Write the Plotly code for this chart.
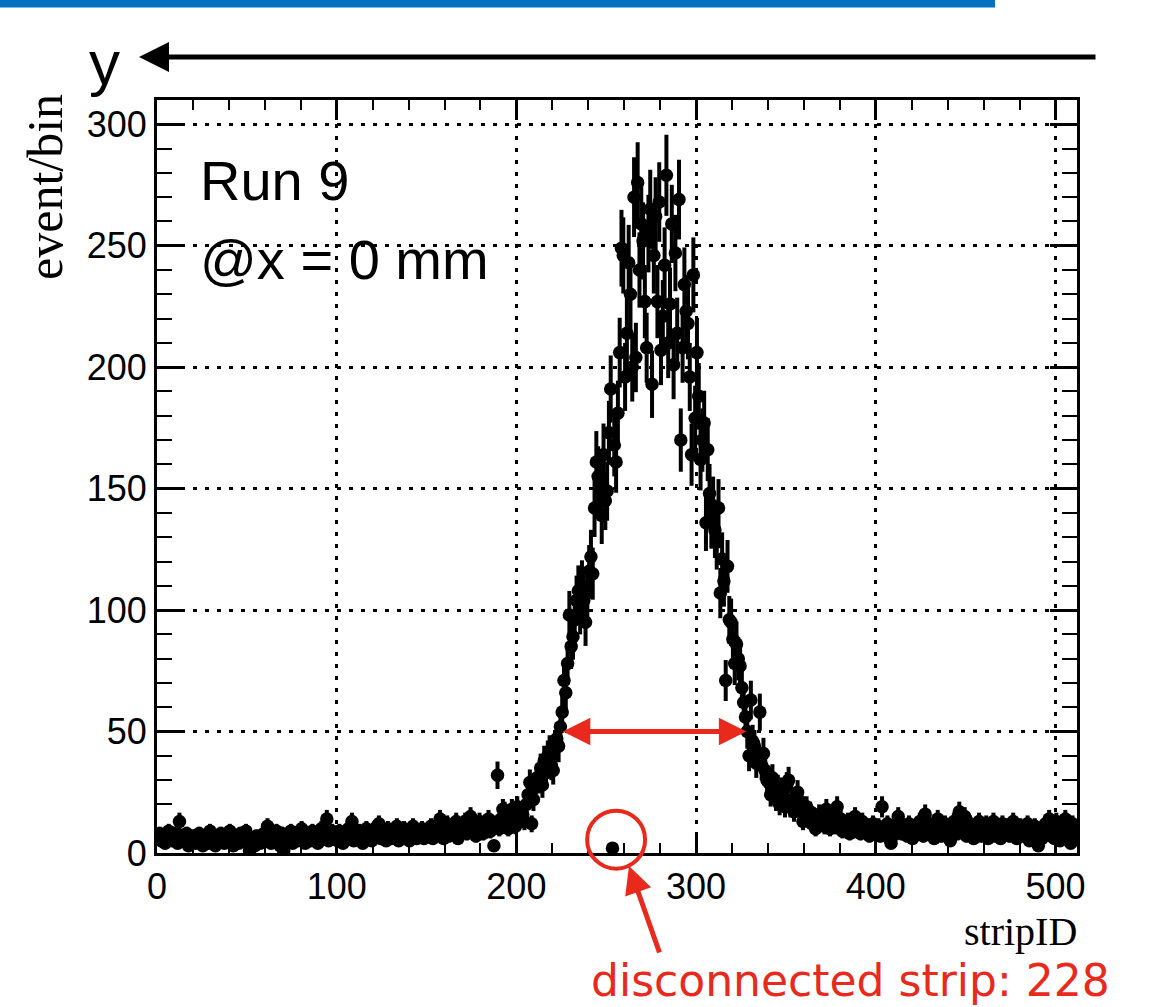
import numpy as np
import plotly.graph_objects as go

# ---------------- data (counts per strip) ----------------
counts_000_049 = [7, 8, 5, 6, 4, 7, 9, 6, 5, 8, 6, 4, 13, 7, 5, 6, 8, 3, 6, 5,
                  7, 4, 6, 8, 5, 3, 7, 6, 4, 9, 5, 6, 3, 7, 5, 8, 6, 4, 7, 5,
                  9, 6, 3, 5, 7, 4, 8, 6, 5, 9]
counts_050_099 = [4, 1, 6, 5, 3, 7, 5, 4, 6, 8, 5, 11, 6, 4, 7, 5, 9, 6, 3, 8,
                  1, 6, 7, 5, 9, 4, 6, 8, 5, 7, 10, 6, 4, 8, 7, 5, 9, 6, 8, 4,
                  7, 10, 6, 8, 14, 5, 7, 9, 6, 8]
counts_100_149 = [5, 9, 7, 4, 8, 6, 10, 7, 13, 5, 8, 6, 9, 7, 4, 8, 10, 6, 9, 5,
                  7, 8, 11, 12, 6, 9, 7, 5, 10, 8, 6, 9, 7, 11, 5, 8, 6, 10, 7, 9,
                  5, 8, 11, 7, 6, 9, 8, 10, 6, 7]
counts_150_189 = [9, 8, 11, 6, 10, 7, 9, 14, 8, 6, 10, 12, 7, 9, 11, 8, 13, 6, 10, 9,
                  12, 13, 8, 11, 15, 9, 12, 7, 10, 13, 11, 8, 12, 10, 14, 9, 11, 3, 12, 32]
counts_190_239 = [10, 14, 18, 17, 13, 10, 16, 18, 15, 11, 19, 17, 14, 16, 13, 20, 24, 29, 12, 22,
                  27, 31, 30, 35, 28, 38, 33, 40, 42, 36, 34, 44, 47, 44, 52, 58, 71, 66, 78, 98,
                  85, 89, 96, 104, 108, 100, 110, 104, 95, 107]
counts_240_300 = [116, 122, 115, 142, 161, 155, 150, 139, 164, 145,
                  149, 173, 191, 2, 168, 161, 181, 206, 249, 246,
                  196, 214, 243, 230, 200, 270, 204, 276, 240, 259,
                  252, 227, 208, 255, 265, 193, 246, 262, 227, 268,
                  207, 221, 242, 279, 210, 226, 259, 201, 247, 214,
                  269, 170, 208, 234, 223, 218, 196, 164, 238, 179,
                  206]
counts_301_413 = [188, 162, 170, 177, 136, 166, 148, 137, 143, 133,
                  128, 142, 107, 121, 112, 71, 118, 96, 95, 88,
                  78, 86, 80, 77, 68, 62, 56, 50, 40, 63,
                  46, 44, 37, 40, 58, 36, 41, 34, 30, 29,
                  24, 31, 27, 22, 27, 20, 26, 23, 19, 28,
                  30, 19, 22, 17, 21, 25, 18, 21, 13, 16,
                  19, 14, 17, 12, 15, 10, 13, 16, 12, 14,
                  11, 18, 13, 10, 12, 15, 11, 19, 12, 14,
                  9, 12, 10, 13, 8, 11, 9, 15, 12, 10,
                  8, 13, 9, 11, 11, 7, 10, 12, 8, 9,
                  11, 7, 19, 10, 8, 12, 6, 4, 9, 11,
                  8, 15, 10]
counts_414_511 = [8, 11, 9, 7, 12, 10, 6, 9, 11, 8,
                  13, 10, 7, 16, 9, 12, 8, 10, 6, 11,
                  14, 9, 7, 10, 12, 8, 11, 5, 9, 13,
                  10, 8, 17, 9, 11, 15, 7, 10, 12, 8,
                  6, 11, 9, 13, 7, 10, 8, 12, 6, 9,
                  11, 13, 7, 8, 10, 6, 12, 9, 8, 11,
                  7, 10, 13, 8, 6, 9, 11, 7, 10, 8,
                  12, 5, 9, 7, 11, 8, 3, 10, 6, 9,
                  12, 8, 14, 7, 10, 6, 13, 9, 5, 11,
                  8, 14, 6, 10, 4, 12, 7, 9]

counts = np.array(counts_000_049 + counts_050_099 + counts_100_149 + counts_150_189 +
                  counts_190_239 + counts_240_300 + counts_301_413 + counts_414_511, dtype=float)
n_strips = 512
strip_centers = np.arange(n_strips) + 0.5
errors = np.sqrt(counts)

x_range = [0, 512]
y_range = [0, 310]
x_tick_step, x_minor_step = 100, 20
y_tick_step, y_minor_step = 50, 10
fwhm_level = 50
fwhm_left, fwhm_right = 225, 328
dead_strip_label = "disconnected strip: 228"
dead_marker_center = (255.5, 5.5)

# ---------------- geometry helpers ----------------
W, H = 1150, 1007
PL, PR, PT, PB = 157, 1077, 100, 853
RED = "#E8291C"


def pxx(px):
    return (px - PL) / (PR - PL)


def pxy(py):
    return (PB - py) / (PB - PT)


def dx_to_px(x):
    return PL + (x - x_range[0]) / (x_range[1] - x_range[0]) * (PR - PL)


def dy_to_px(y):
    return PB - (y - y_range[0]) / (y_range[1] - y_range[0]) * (PB - PT)


fig = go.Figure()
fig.add_trace(go.Scatter(
    x=strip_centers, y=counts, mode="markers",
    marker=dict(color="black", size=13.5, line=dict(width=0)),
    error_y=dict(type="data", array=errors, color="black", thickness=4, width=0),
    showlegend=False, hoverinfo="x+y",
))

sans = "Liberation Sans, Arial, Helvetica, sans-serif"
serif = "Liberation Serif, Times New Roman, serif"

axis_common = dict(
    showline=True, linewidth=3, linecolor="black", mirror="ticks",
    ticks="inside", tickcolor="black", tickwidth=2.5,
    showgrid=True, gridcolor="black", gridwidth=2.5, griddash="4px,8px",
    zeroline=False, tickfont=dict(family=sans, size=36, color="black"),
)
fig.update_xaxes(range=x_range, tick0=0, dtick=x_tick_step, ticklen=20,
                 ticklabelstandoff=0,
                 minor=dict(dtick=x_minor_step, ticks="inside", ticklen=10, tickwidth=2,
                            tickcolor="black", showgrid=False),
                 **axis_common)
fig.update_yaxes(range=y_range, tick0=0, dtick=y_tick_step, ticklen=27,
                 minor=dict(dtick=y_minor_step, ticks="inside", ticklen=15, tickwidth=2,
                            tickcolor="black", showgrid=False),
                 **axis_common)

# red circle around the disconnected strip (radius in pixels)
cx, cy, r = dx_to_px(dead_marker_center[0]), dy_to_px(dead_marker_center[1]), 29
shapes = [
    dict(type="rect", xref="paper", yref="paper", x0=pxx(0), x1=pxx(995), y0=pxy(7.5), y1=pxy(-2),
         fillcolor="#0071C1", line=dict(width=0), layer="above"),
    dict(type="circle", xref="paper", yref="paper", x0=pxx(cx - r), x1=pxx(cx + r),
         y0=pxy(cy + r), y1=pxy(cy - r), line=dict(color=RED, width=4), layer="above"),
]

annotations = [
    # big "y" with left-pointing arrow
    dict(xref="paper", yref="paper", x=pxx(104), y=pxy(62), text="y", showarrow=False,
         font=dict(family=sans, size=62, color="black"), xanchor="center", yanchor="middle"),
    dict(xref="paper", yref="paper", x=pxx(139), y=pxy(57), text="", showarrow=True,
         ax=1097 - 139, ay=0, arrowhead=2, arrowsize=1.2, arrowwidth=5, arrowcolor="black"),
    # run info
    dict(xref="paper", yref="paper", x=pxx(198), y=pxy(180), text="Run 9", showarrow=False,
         font=dict(family=sans, size=56, color="black"), xanchor="left", yanchor="middle"),
    dict(xref="paper", yref="paper", x=pxx(198), y=pxy(259), text="@x = 0 mm", showarrow=False,
         font=dict(family=sans, size=56, color="black"), xanchor="left", yanchor="middle"),
    # axis titles (ROOT style, aligned to the ends)
    dict(xref="paper", yref="paper", x=pxx(1078), y=pxy(932), text="stripID", showarrow=False,
         font=dict(family=serif, size=40, color="black"), xanchor="right", yanchor="middle",
         borderpad=0),
    dict(xref="paper", yref="paper", x=pxx(45), y=pxy(92), text="event/bin", showarrow=False,
         textangle=-90, font=dict(family=serif, size=50, color="black"),
         xanchor="center", yanchor="top"),
    # FWHM double arrow
    dict(xref="x", yref="y", axref="x", ayref="y", x=fwhm_right, y=fwhm_level,
         ax=fwhm_left, ay=fwhm_level, text="", showarrow=True, arrowside="end+start",
         arrowhead=2, startarrowhead=2, arrowsize=1.1, startarrowsize=1.1,
         arrowwidth=5, arrowcolor=RED),
    # pointer to disconnected strip
    dict(xref="paper", yref="paper", x=pxx(629), y=pxy(866), text="", showarrow=True,
         ax=31, ay=88, arrowhead=2, arrowsize=1.1, arrowwidth=5, arrowcolor=RED),
    dict(xref="paper", yref="paper", x=pxx(590), y=pxy(1007), text=dead_strip_label,
         showarrow=False, font=dict(family="DejaVu Sans, Liberation Sans, sans-serif", size=44, color=RED),
         xanchor="left", yanchor="bottom", borderpad=0),
]

fig.update_layout(
    width=W, height=H,
    margin=dict(l=PL, r=W - PR, t=PT, b=H - PB, pad=0),
    paper_bgcolor="white", plot_bgcolor="white",
    shapes=shapes, annotations=annotations,
    showlegend=False,
)

fig.write_html("out.html")
